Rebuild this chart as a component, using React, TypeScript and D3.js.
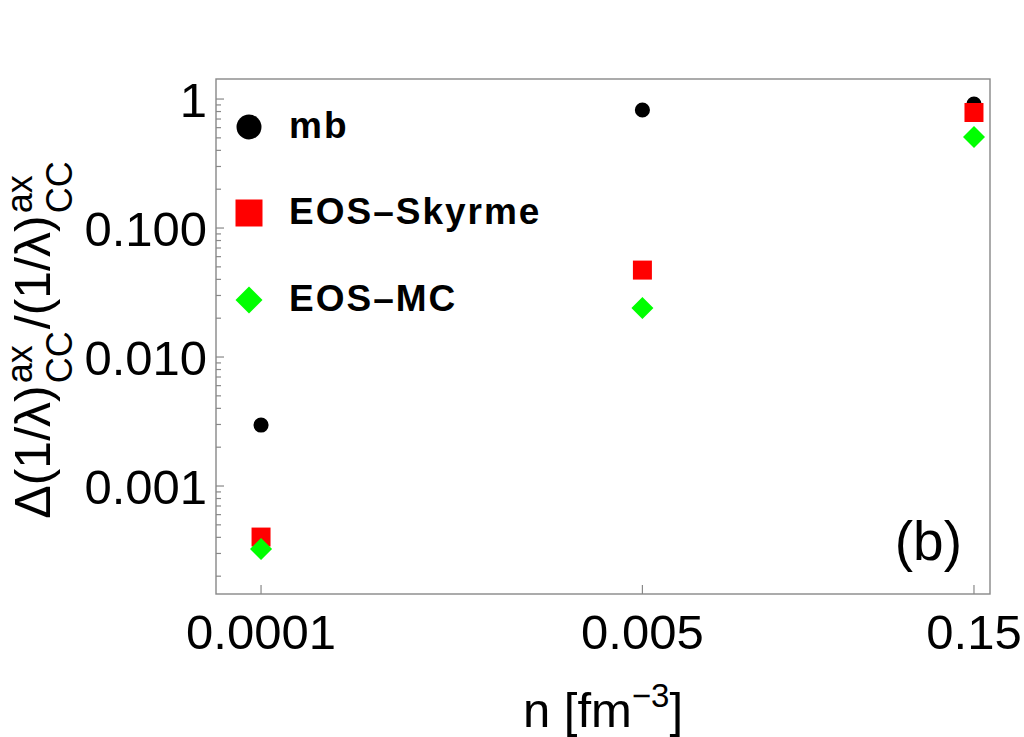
import * as d3 from "d3";
import { useEffect, useRef } from "react";

const width = 1024;
const height = 737;

// n values (fm^-3) and the three series
const densities = [0.0001, 0.005, 0.15];
const xTickLabels = ["0.0001", "0.005", "0.15"];
const mbValues = [0.00297, 0.822, 0.915];
const skyrmeValues = [0.000402, 0.0472, 0.786];
const mcValues = [0.000325, 0.024, 0.507];
const seriesNames = ["mb", "EOS\u2013Skyrme", "EOS\u2013MC"];

const yTickValues = [0.001, 0.01, 0.1, 1];
const yTickLabels = ["0.001", "0.010", "0.100", "1"];

const font = "'Liberation Sans', Arial, sans-serif";

const Chart = () => {
  const ref = useRef<SVGSVGElement | null>(null);

  useEffect(() => {
    const svg = d3.select(ref.current);
    svg.selectAll("*").remove();

    const left = 216;
    const right = 990;
    const top = 79;
    const bottom = 594;

    const x = d3.scaleLog().domain([6.3e-5, 0.1768]).range([left, right]);
    const y = d3.scaleLog().domain([1.455e-4, 1.43]).range([bottom, top]);

    const axisColor = "#888";

    // frame
    svg
      .append("rect")
      .attr("x", left)
      .attr("y", top)
      .attr("width", right - left)
      .attr("height", bottom - top)
      .attr("fill", "none")
      .attr("stroke", axisColor)
      .attr("stroke-width", 1.4);

    // y ticks: majors and minors (2..9 per decade)
    const minor: number[] = [];
    for (let e = -4; e <= 0; e++) {
      for (let m = 2; m <= 9; m++) {
        const v = m * Math.pow(10, e);
        if (v >= y.domain()[0] && v <= y.domain()[1]) minor.push(v);
      }
    }
    svg
      .append("g")
      .selectAll("line.minor")
      .data(minor)
      .enter()
      .append("line")
      .attr("x1", left)
      .attr("x2", left + 5)
      .attr("y1", (d) => y(d))
      .attr("y2", (d) => y(d))
      .attr("stroke", axisColor)
      .attr("stroke-width", 1.2);
    svg
      .append("g")
      .selectAll("line.major")
      .data(yTickValues)
      .enter()
      .append("line")
      .attr("x1", left)
      .attr("x2", left + 8)
      .attr("y1", (d) => y(d))
      .attr("y2", (d) => y(d))
      .attr("stroke", axisColor)
      .attr("stroke-width", 1.2);
    svg
      .append("g")
      .selectAll("text")
      .data(yTickValues)
      .enter()
      .append("text")
      .attr("x", left - 9)
      .attr("y", (d) => y(d) + 17.5)
      .attr("text-anchor", "end")
      .attr("font-family", font)
      .attr("font-size", 49)
      .text((d, i) => yTickLabels[i]);

    // x ticks at the three densities
    svg
      .append("g")
      .selectAll("line")
      .data(densities)
      .enter()
      .append("line")
      .attr("x1", (d) => x(d))
      .attr("x2", (d) => x(d))
      .attr("y1", bottom)
      .attr("y2", bottom - 9)
      .attr("stroke", axisColor)
      .attr("stroke-width", 1.2);
    svg
      .append("g")
      .selectAll("text")
      .data(densities)
      .enter()
      .append("text")
      .attr("x", (d) => x(d))
      .attr("y", 649)
      .attr("text-anchor", "middle")
      .attr("font-family", font)
      .attr("font-size", 49)
      .text((d, i) => xTickLabels[i]);

    // markers
    const circle = (area: number) => d3.symbol().type(d3.symbolCircle).size(area)();
    const square = (area: number) => d3.symbol().type(d3.symbolSquare).size(area)();

    const series = [
      { values: mbValues, path: circle(180), legend: circle(490), color: "#000", rot: 0 },
      { values: skyrmeValues, path: square(361), legend: square(729), color: "#ff0000", rot: 0 },
      { values: mcValues, path: square(242), legend: square(365), color: "#00ff00", rot: 45 },
    ];

    series.forEach((s) => {
      svg
        .append("g")
        .selectAll("path")
        .data(s.values)
        .enter()
        .append("path")
        .attr("d", s.path)
        .attr("fill", s.color)
        .attr("transform", (d, i) => `translate(${x(densities[i])},${y(d)}) rotate(${s.rot})`);
    });

    // legend
    const legendY = [127, 213, 300];
    series.forEach((s, i) => {
      svg
        .append("path")
        .attr("d", s.legend)
        .attr("fill", s.color)
        .attr("transform", `translate(249,${legendY[i]}) rotate(${s.rot})`);
      svg
        .append("text")
        .attr("x", 289)
        .attr("y", legendY[i] + 11)
        .attr("font-family", font)
        .attr("font-weight", "bold")
        .attr("font-size", 37)
        .attr("letter-spacing", 2)
        .text(seriesNames[i]);
    });

    // panel label
    svg
      .append("text")
      .attr("x", 962)
      .attr("y", 560)
      .attr("text-anchor", "end")
      .attr("font-family", font)
      .attr("font-size", 55)
      .text("(b)");

    // x title
    const xt = svg
      .append("text")
      .attr("x", (left + right) / 2)
      .attr("y", 727)
      .attr("text-anchor", "middle")
      .attr("font-family", font)
      .attr("font-size", 49);
    xt.append("tspan").text("n [fm");
    xt.append("tspan").attr("dy", -20).attr("font-size", 33).text("\u22123");
    xt.append("tspan").attr("dy", 20).text("]");

    // y title, rotated
    const yt = svg
      .append("text")
      .attr("transform", "translate(50,340) rotate(-90)")
      .attr("text-anchor", "middle")
      .attr("font-family", font)
      .attr("font-size", 50);
    yt.append("tspan").text("\u0394(1/\u03bb)");
    yt.append("tspan").attr("dx", 2).attr("dy", -18).attr("font-size", 36).text("ax");
    yt.append("tspan").attr("dx", -38).attr("dy", 40).attr("font-size", 36).text("CC");
    yt.append("tspan").attr("dx", 2).attr("dy", -22).text("/(1/\u03bb)");
    yt.append("tspan").attr("dx", 2).attr("dy", -18).attr("font-size", 36).text("ax");
    yt.append("tspan").attr("dx", -38).attr("dy", 40).attr("font-size", 36).text("CC");
  }, []);

  return <svg ref={ref} width={width} height={height} style={{ display: "block" }} />;
};

export default function App() {
  return (
    <div style={{ position: "absolute", left: 0, top: 0, background: "#fff" }}>
      <Chart />
    </div>
  );
}
